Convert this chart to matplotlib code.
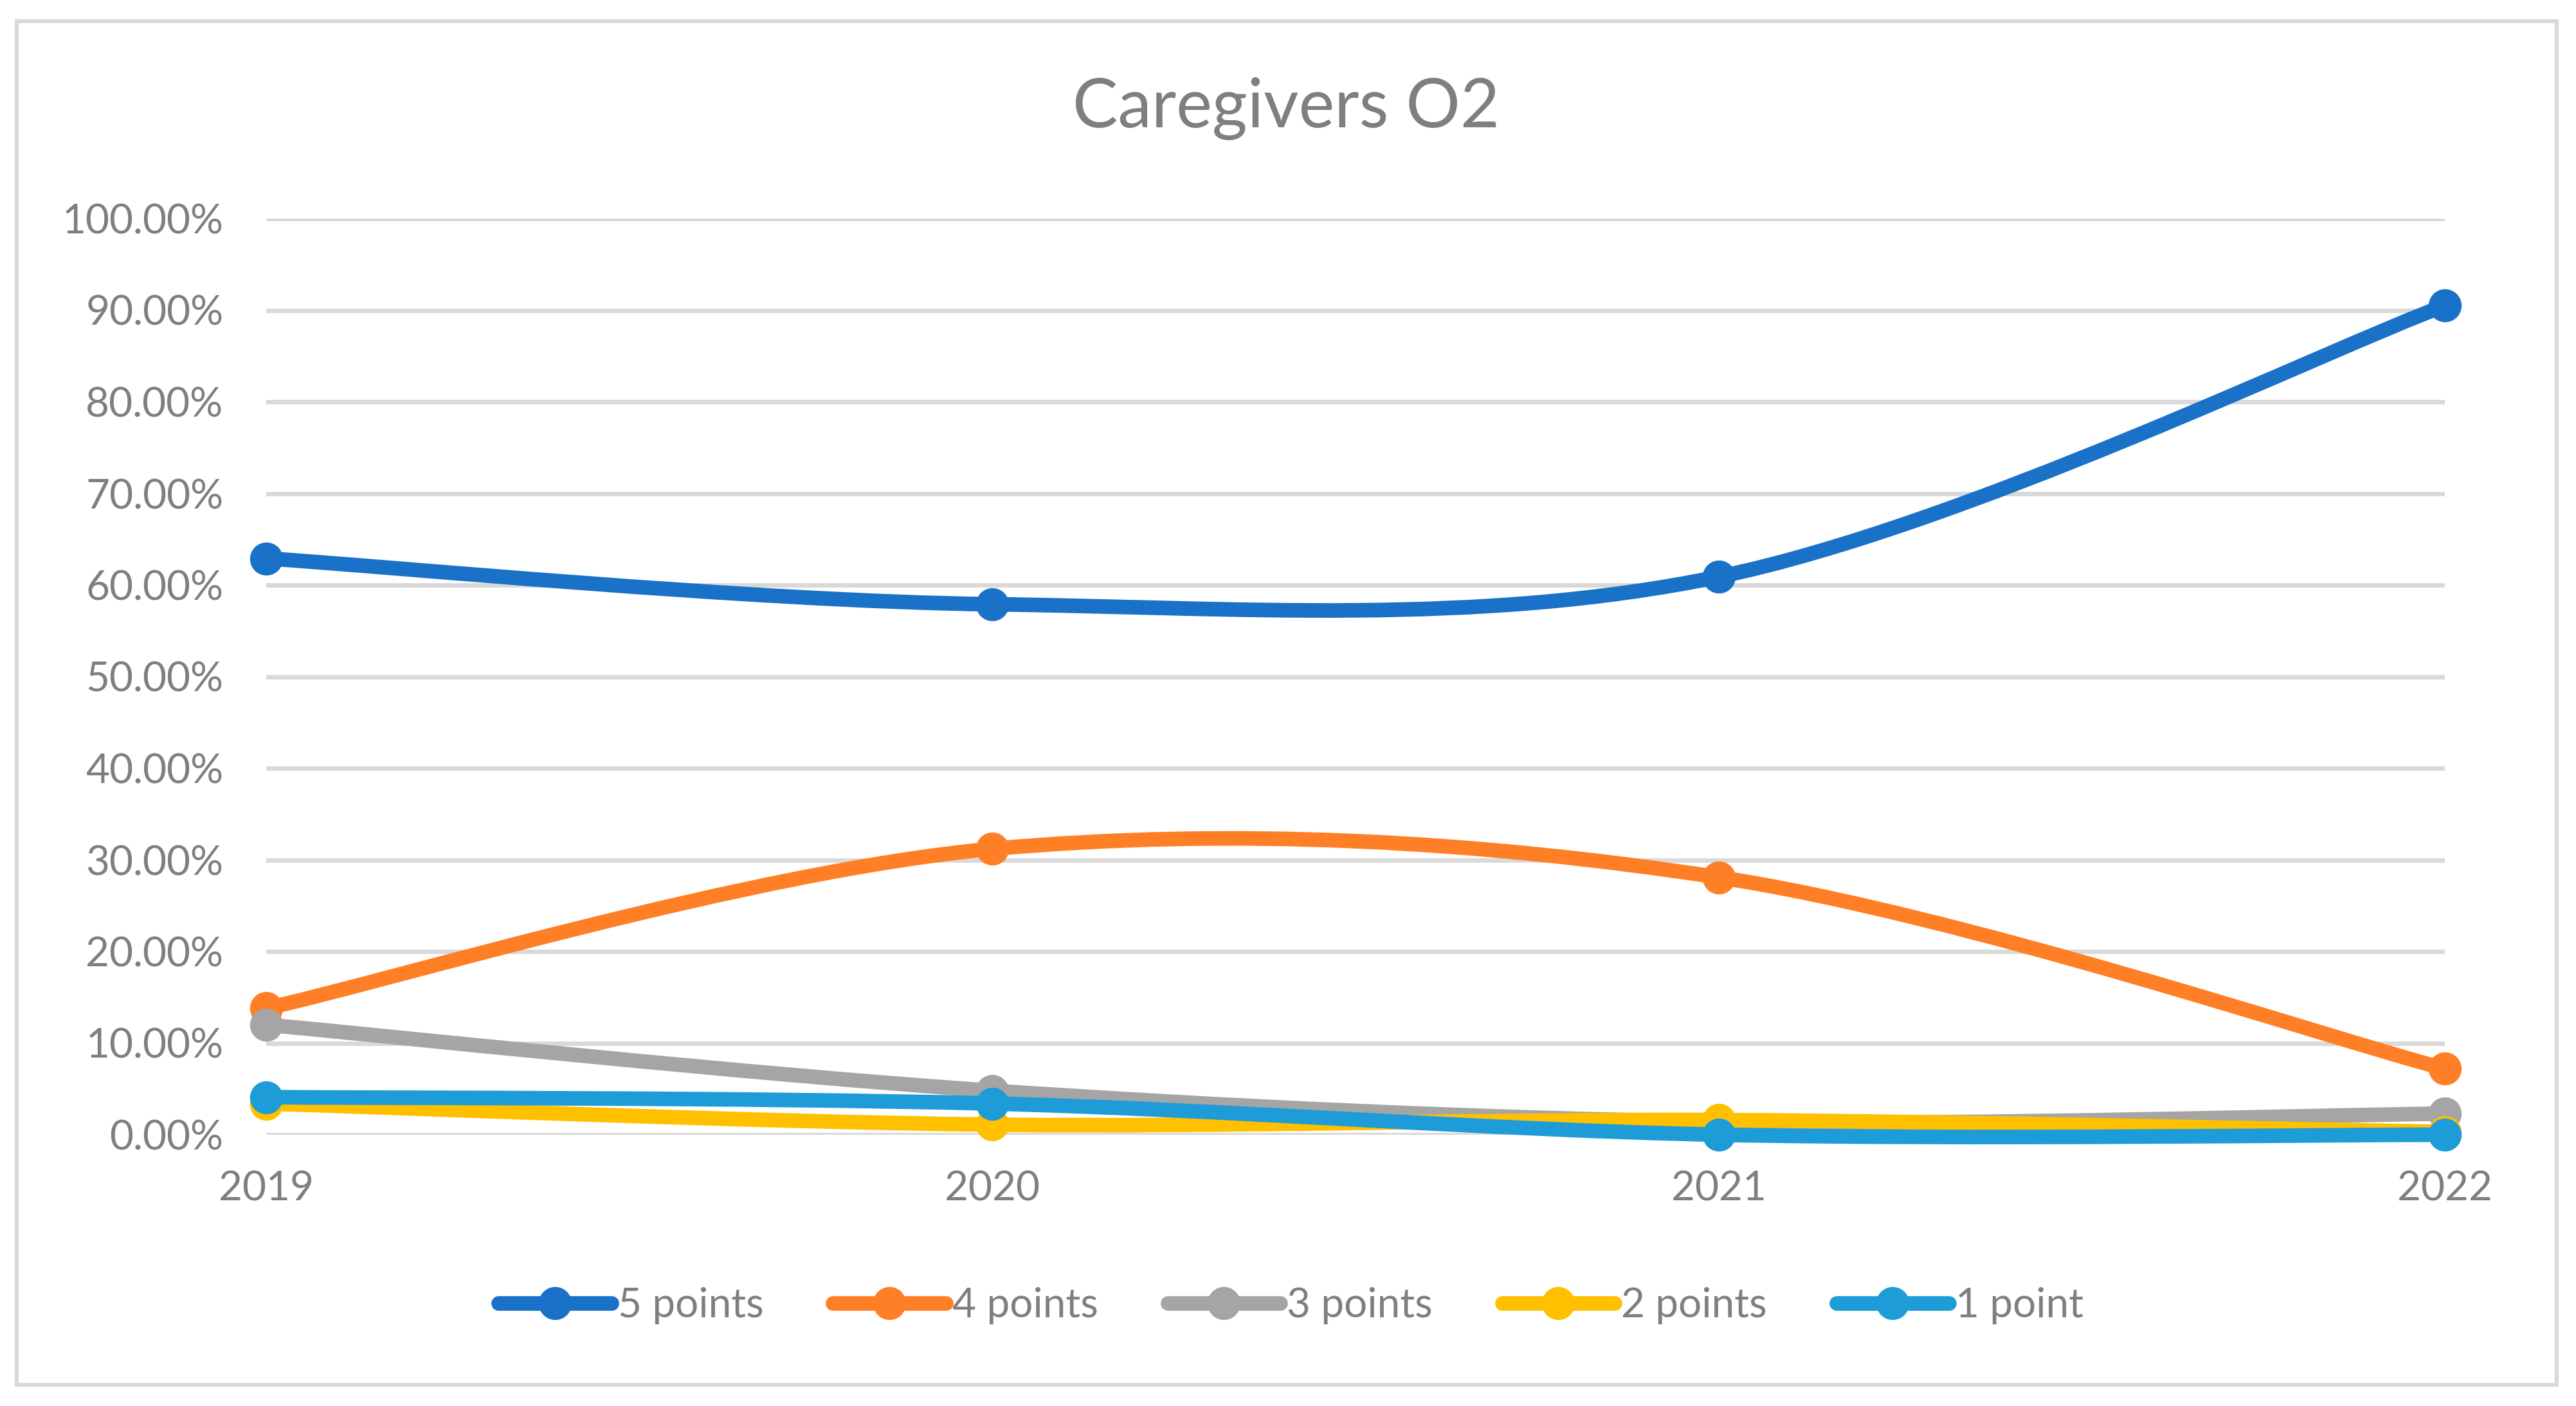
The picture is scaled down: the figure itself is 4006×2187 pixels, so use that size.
import matplotlib
matplotlib.use("Agg")
import matplotlib.pyplot as plt
from matplotlib.path import Path
from matplotlib.patches import PathPatch, Rectangle
from matplotlib.lines import Line2D
import numpy as np

years = [2019, 2020, 2021, 2022]
series_names = ["5 points", "4 points", "3 points", "2 points", "1 point"]
five_points = [62.9, 57.9, 60.9, 90.5]
four_points = [13.8, 31.2, 28.1, 7.2]
three_points = [12.0, 4.8, 1.4, 2.3]
two_points = [3.4, 1.1, 1.6, 0.3]
one_point = [4.1, 3.4, 0.0, 0.0]
colors = ["#1971C8", "#FF7F27", "#A5A5A5", "#FFC000", "#1E9CD8"]
yticks = [0, 10, 20, 30, 40, 50, 60, 70, 80, 90, 100]
title = "Caregivers O2"

all_series = [five_points, four_points, three_points, two_points, one_point]

FONT = ["Lato", "DejaVu Sans"]
TXT = "#7F7F7F"

W, H = 4006, 2187
dpi = 200
fig = plt.figure(figsize=(W / dpi, H / dpi), dpi=dpi)

# outer border
fig.patches.append(Rectangle((26 / W, 1 - 2154 / H), (3976 - 26) / W, (2154 - 33) / H,
                             transform=fig.transFigure, fill=False,
                             edgecolor="#D9D9D9", linewidth=2.2))

left, right = 414 / W, 3802 / W
top, bottom = 1 - 340 / H, 1 - 1765 / H
ax = fig.add_axes([left, bottom, right - left, top - bottom])
ax.set_xlim(years[0], years[-1])
ax.set_ylim(0, 100)
for s in ax.spines.values():
    s.set_visible(False)
ax.set_yticks(yticks)
ax.set_yticklabels([f"{v:.2f}%" for v in yticks])
ax.set_xticks(years)
ax.set_xticklabels([str(y) for y in years])
ax.tick_params(axis="both", length=0, labelcolor=TXT, labelsize=23)
ax.tick_params(axis="y", pad=24)
ax.tick_params(axis="x", pad=20)
for lab in ax.get_xticklabels() + ax.get_yticklabels():
    lab.set_family(FONT)
for v in yticks:
    ax.axhline(v, color="#D9D9D9", linewidth=2.5, zorder=0)


def smooth_path(xs, ys):
    pts = np.column_stack([xs, ys]).astype(float)
    n = len(pts)
    verts = [pts[0]]
    codes = [Path.MOVETO]
    for i in range(n - 1):
        p0 = pts[i - 1] if i > 0 else pts[i]
        p1 = pts[i]
        p2 = pts[i + 1]
        p3 = pts[i + 2] if i + 2 < n else pts[i + 1]
        c1 = p1 + (p2 - p0) / 6.0
        c2 = p2 - (p3 - p1) / 6.0
        verts += [c1, c2, p2]
        codes += [Path.CURVE4] * 3
    return Path(verts, codes)


MS = 18.5
LW = 8.2
handles = []
for k, (name, vals, c) in enumerate(zip(series_names, all_series, colors)):
    z = 3 + k
    patch = PathPatch(smooth_path(years, vals), facecolor="none", edgecolor=c,
                      linewidth=LW, capstyle="round", joinstyle="round",
                      zorder=z, clip_on=False)
    ax.add_patch(patch)
    ax.plot(years, vals, linestyle="none", marker="o", markersize=MS,
            color=c, markeredgewidth=0, zorder=z + 0.5, clip_on=False)
    handles.append(Line2D([], [], color=c, linewidth=LW, marker="o",
                          markersize=MS, markeredgewidth=0, solid_capstyle="round"))

fig.text(2000 / W, 1 - 169 / H, title, ha="center", va="center",
         fontsize=38, color=TXT, family=FONT)

leg = fig.legend(handles, series_names, loc="center", bbox_to_anchor=(2008 / W, 1 - 2031 / H),
                 ncol=5, frameon=False, handlelength=2.75,
                 handletextpad=0.16, columnspacing=1.68, prop={"family": FONT, "size": 23})
for t in leg.get_texts():
    t.set_color(TXT)

fig.savefig("out.png", dpi=dpi, facecolor="white")
